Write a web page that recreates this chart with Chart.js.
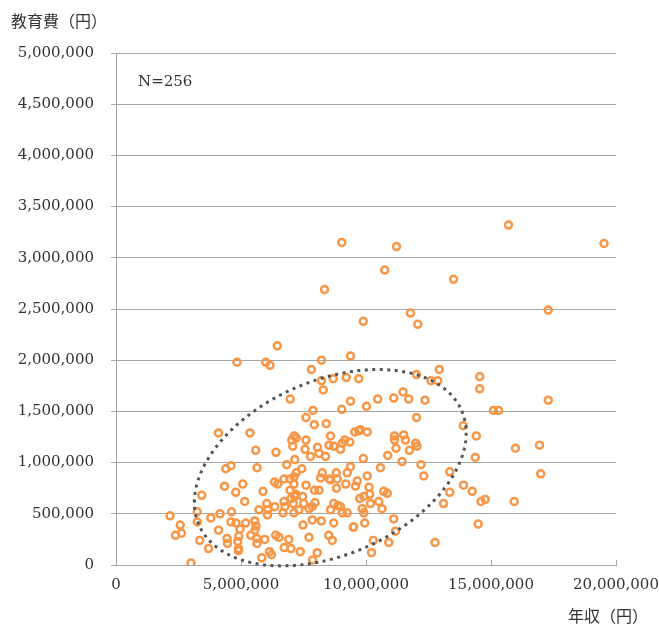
<!DOCTYPE html>
<html>
<head>
<meta charset="utf-8">
<script src="https://cdn.jsdelivr.net/npm/chart.js@4.4.0/dist/chart.umd.min.js"></script>
<style>
  html, body { margin: 0; padding: 0; background: #fff; }
  canvas { display: block; }
</style>
</head>
<body>
<canvas id="scatter" width="659" height="627" style="width:659px;height:627px"></canvas>
<script>
// 年収 (x) と 教育費 (y), 単位: 円
var incomes = [
  9030000, 11220000, 15700000, 19520000, 10750000, 13500000, 8340000, 9890000, 11780000, 12070000,
  17290000, 6450000, 9380000, 8220000, 4840000, 5990000, 6160000, 7820000, 8220000, 8690000,
  9210000, 9710000, 8290000, 12020000, 12600000, 12870000, 12930000, 9380000, 10470000, 11110000,
  11480000, 11710000, 12360000, 9030000, 10020000, 7880000, 7600000, 7930000, 8410000, 12020000,
  13890000, 6970000, 14550000, 14550000, 17290000, 15100000, 15300000, 14410000, 15980000, 16940000,
  14370000, 16990000, 14250000, 14600000, 14770000, 15930000, 14490000,
  4100000, 5360000, 7130000, 7030000, 7210000, 7600000, 7070000, 7560000, 8060000, 5590000,
  6400000, 7780000, 7150000, 6830000, 4600000, 4390000, 5640000, 7430000, 7210000, 6720000,
  6960000, 6340000, 6470000, 7120000, 7600000, 7940000, 5070000, 4340000, 4790000, 5880000,
  6960000, 7200000, 7470000, 7000000, 3430000, 5150000, 6720000, 7960000, 6030000, 6350000,
  5720000, 6070000, 6760000, 7320000, 7720000, 6060000, 6680000, 7120000, 2160000, 3250000,
  4160000, 4620000, 3790000, 3250000, 4600000, 4800000, 5190000, 5550000, 5600000, 4960000,
  2570000, 2380000, 2620000, 4100000, 4910000, 5390000, 5630000, 5950000, 6390000, 6520000,
  6910000, 7720000, 3350000, 4440000, 4460000, 4870000, 4900000, 4900000, 3700000, 5640000,
  6730000, 7000000, 7370000, 6140000, 6220000, 5830000, 3000000, 7860000, 8050000, 5560000,
  8380000, 8120000, 8520000, 8710000, 9050000, 9150000, 9350000, 8980000, 8580000, 9550000,
  9710000, 10050000, 11140000, 11510000, 11140000, 11580000, 11980000, 12040000, 11200000, 11740000,
  9890000, 10870000, 11440000, 12200000, 12310000, 13350000, 13900000, 13350000, 13100000, 12760000,
  8250000, 8530000, 8810000, 8850000, 9250000, 9380000, 9190000, 8820000, 8120000, 9650000,
  10580000, 10050000, 9580000, 10120000, 10150000, 10710000, 10850000, 9750000, 9910000, 10180000,
  10510000, 10640000, 9850000, 9910000, 9950000, 9490000, 11110000, 11180000, 10910000, 10290000,
  10220000, 7850000, 8210000, 7480000, 8580000, 8710000, 8880000, 9050000, 8710000, 9250000,
  9510000, 8510000, 8650000,
  7510000, 7090000, 7850000, 7120000, 8580000, 8180000, 8980000, 9780000, 7150000
]

var costs = [
  3150000, 3110000, 3320000, 3140000, 2880000, 2790000, 2690000, 2380000, 2460000, 2350000,
  2490000, 2140000, 2040000, 2000000, 1980000, 1980000, 1950000, 1910000, 1800000, 1820000,
  1830000, 1820000, 1710000, 1860000, 1800000, 1800000, 1910000, 1600000, 1620000, 1630000,
  1690000, 1620000, 1610000, 1520000, 1550000, 1510000, 1440000, 1370000, 1380000, 1440000,
  1360000, 1620000, 1840000, 1720000, 1610000, 1510000, 1510000, 1260000, 1140000, 1170000,
  1050000, 890000, 720000, 620000, 640000, 620000, 400000,
  1290000, 1290000, 1260000, 1220000, 1240000, 1220000, 1160000, 1130000, 1150000, 1120000,
  1100000, 1060000, 1030000, 980000, 970000, 940000, 950000, 940000, 900000, 840000,
  840000, 810000, 790000, 790000, 780000, 730000, 790000, 770000, 710000, 720000,
  730000, 690000, 670000, 650000, 680000, 620000, 620000, 610000, 600000, 570000,
  540000, 540000, 570000, 540000, 550000, 490000, 510000, 510000, 480000, 520000,
  500000, 520000, 460000, 420000, 420000, 410000, 410000, 430000, 380000, 350000,
  390000, 290000, 310000, 340000, 280000, 290000, 260000, 250000, 290000, 270000,
  250000, 270000, 240000, 260000, 210000, 230000, 160000, 140000, 160000, 210000,
  170000, 160000, 130000, 130000, 100000, 70000, 20000, 50000, 120000, 340000,
  1060000, 1090000, 1170000, 1160000, 1190000, 1220000, 1200000, 1130000, 1260000, 1300000,
  1310000, 1300000, 1260000, 1270000, 1220000, 1220000, 1190000, 1160000, 1140000, 1120000,
  1040000, 1070000, 1010000, 980000, 870000, 910000, 780000, 710000, 600000, 220000,
  900000, 840000, 900000, 840000, 900000, 960000, 790000, 750000, 730000, 820000,
  950000, 870000, 770000, 760000, 690000, 720000, 700000, 650000, 670000, 600000,
  620000, 550000, 550000, 510000, 410000, 370000, 450000, 330000, 220000, 240000,
  120000, 440000, 430000, 390000, 540000, 600000, 580000, 510000, 410000, 510000,
  370000, 290000, 240000,
  600000, 600000, 570000, 860000, 830000, 850000, 570000, 1320000, 670000
]

var xTicks = [0, 5000000, 10000000, 15000000, 20000000]
var yTicks = [0, 500000, 1000000, 1500000, 2000000, 2500000, 3000000, 3500000, 4000000, 4500000, 5000000]

var xTitle = '年収（円）'
var yTitle = '教育費（円）'
var sampleNote = 'N=256'

// 楕円 (データ単位): 中心と2本の半軸ベクトル
var ellipseCenter = [8570000, 950000]
var ellipseAxisU = [5260000, 555000]
var ellipseAxisV = [1375000, -782000]

var points = incomes.map(function (v, i) { return { x: v, y: costs[i] } })

var axisGray = '#a6a6a6'
var textColor = '#333333'

var overlay = {
    id: 'overlay',
    afterDatasetsDraw: function (chart) {
        var ctx = chart.ctx
        var x = chart.scales.x
        var y = chart.scales.y
        var area = chart.chartArea
        ctx.save()

        // x軸の内向き目盛り
        ctx.strokeStyle = axisGray
        ctx.lineWidth = 1
        xTicks.forEach(function (v) {
            var px = Math.round(x.getPixelForValue(v)) + 0.5
            ctx.beginPath()
            ctx.moveTo(px, area.bottom)
            ctx.lineTo(px, area.bottom - 5)
            ctx.stroke()
        })

        // 点線の楕円
        ctx.beginPath()
        for (var i = 0; i <= 240; i++) {
            var t = i / 240 * Math.PI * 2
            var dx = ellipseCenter[0] + ellipseAxisU[0] * Math.cos(t) + ellipseAxisV[0] * Math.sin(t)
            var dy = ellipseCenter[1] + ellipseAxisU[1] * Math.cos(t) + ellipseAxisV[1] * Math.sin(t)
            var px = x.getPixelForValue(dx)
            var py = y.getPixelForValue(dy)
            if (i === 0) ctx.moveTo(px, py)
            else ctx.lineTo(px, py)
        }
        ctx.closePath()
        ctx.setLineDash([3, 4.5])
        ctx.lineWidth = 3
        ctx.strokeStyle = '#555555'
        ctx.stroke()
        ctx.setLineDash([])

        // テキスト
        ctx.fillStyle = textColor
        ctx.textBaseline = 'middle'
        ctx.font = '15px "DejaVu Serif", serif'
        ctx.textAlign = 'left'
        ctx.fillText(sampleNote, x.getPixelForValue(880000), y.getPixelForValue(4720000))

        ctx.font = '16px "Noto Sans CJK JP", sans-serif'
        ctx.fillText(yTitle, 11, 21)
        ctx.textAlign = 'right'
        ctx.fillText(xTitle, 648, 616)
        ctx.restore()
    }
}

function showChart() {
    var ctx = document.getElementById('scatter')
    Chart.defaults.font.family = '"DejaVu Serif", serif'
    Chart.defaults.font.size = 15
    Chart.defaults.color = textColor

    new Chart(ctx, {
        type: 'scatter',
        data: {
            datasets: [{
                data: points,
                pointStyle: 'circle',
                pointRadius: 3.5,
                pointBorderWidth: 2.5,
                pointBorderColor: '#f79646',
                pointBackgroundColor: 'rgba(255,255,255,0)'
            }]
        },
        options: {
            responsive: false,
            animation: false,
            layout: { padding: { top: 53, right: 43, left: 0, bottom: 0 } },
            scales: {
                x: {
                    type: 'linear',
                    min: 0,
                    max: 20000000,
                    afterBuildTicks: function (s) { s.ticks = xTicks.map(function (v) { return { value: v } }) },
                    afterFit: function (s) {
                        s.height = 62
                        s.paddingLeft = 0
                        s.paddingRight = 0
                    },
                    ticks: {
                        padding: 11,
                        maxRotation: 0,
                        autoSkip: false,
                        callback: function (v) { return v.toLocaleString('en-US') }
                    },
                    grid: { drawOnChartArea: false, drawTicks: false },
                    border: { color: axisGray, width: 1 }
                },
                y: {
                    min: 0,
                    max: 5000000,
                    afterBuildTicks: function (s) { s.ticks = yTicks.map(function (v) { return { value: v } }) },
                    afterFit: function (s) {
                        s.width = 116
                        s.paddingTop = 0
                        s.paddingBottom = 0
                    },
                    ticks: {
                        padding: 17,
                        callback: function (v) { return v.toLocaleString('en-US') }
                    },
                    grid: { color: axisGray, lineWidth: 1, tickLength: 5 },
                    border: { color: axisGray, width: 1 }
                }
            },
            plugins: {
                legend: { display: false },
                tooltip: { enabled: false }
            }
        },
        plugins: [overlay]
    })
}

document.addEventListener('DOMContentLoaded', showChart)
</script>
</body>
</html>
